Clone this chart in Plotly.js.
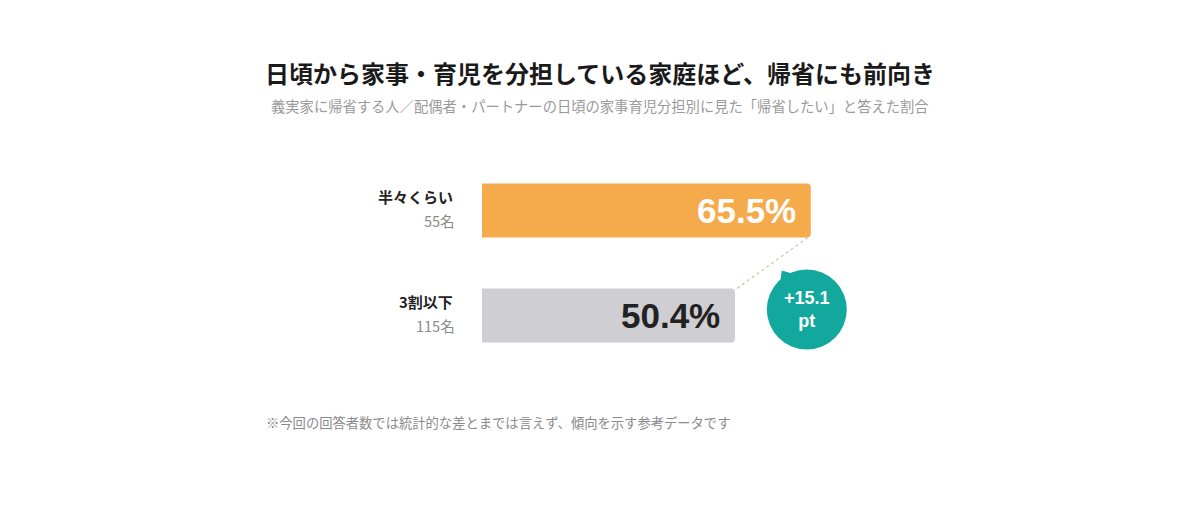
<!DOCTYPE html>
<html>
<head>
<meta charset="utf-8">
<script src="https://cdn.plot.ly/plotly-3.0.1.min.js"></script>
<style>
  html, body { margin: 0; padding: 0; background: #fff; }
  #chart { width: 1200px; height: 506px; }
</style>
</head>
<body>
<div id="chart"></div>
<script>
// data
const groups = ["3割以下", "半々くらい"];
const counts = ["115名", "55名"];
const rates = [50.4, 65.5];
const barColors = ["#cfced3", "#f5aa4c"];
const valueColors = ["#222222", "#ffffff"];

const titleText = "日頃から家事・育児を分担している家庭ほど、帰省にも前向き";
const subText = "義実家に帰省する人／配偶者・パートナーの日頃の家事育児分担別に見た「帰省したい」と答えた割合";
const noteText = "※今回の回答者数では統計的な差とまでは言えず、傾向を示す参考データです";

const jp = "Noto Sans CJK JP, sans-serif";
const barWidth = 0.514;

const diff = (rates[1] - rates[0]).toFixed(1);

const trace = {
    type: "bar",
    orientation: "h",
    x: rates,
    y: groups,
    width: barWidth,
    marker: { color: barColors },
    hoverinfo: "skip"
};

let annotations = [];

// labels on the left of each bar
groups.forEach((g, i) => {
    annotations.push({
        x: 0, y: g, xref: "x", yref: "y",
        text: "<b>" + g + "</b>",
        showarrow: false, xanchor: "right", yanchor: "middle",
        xshift: -27, yshift: 14,
        font: { family: jp, size: 15, color: "#222" }
    });
    annotations.push({
        x: 0, y: g, xref: "x", yref: "y",
        text: counts[i],
        showarrow: false, xanchor: "right", yanchor: "middle",
        xshift: -25, yshift: -10,
        font: { family: jp, size: 14.5, color: "#8a8a8a" }
    });
    // value inside the bar
    annotations.push({
        x: rates[i], y: g, xref: "x", yref: "y",
        text: "<b>" + rates[i].toFixed(1) + "%</b>",
        showarrow: false, xanchor: "right", yanchor: "middle",
        xshift: -13, yshift: 0,
        font: { family: "Liberation Sans, Arial, sans-serif", size: 35, color: valueColors[i] }
    });
});

// difference bubble text
annotations.push({
    x: rates[1], y: 0, xref: "x", yref: "y",
    text: "<b>+" + diff + "<br>pt</b>",
    showarrow: false, xanchor: "center", yanchor: "middle",
    xshift: -4, yshift: 6,
    font: { family: "Liberation Sans, Arial, sans-serif", size: 18, color: "#fff" }
});

annotations.push({
    x: 0.5, y: 1, xref: "paper", yref: "paper",
    text: subText, showarrow: false, xanchor: "center", yanchor: "middle",
    font: { family: jp, size: 14.3, color: "#9a9a9a" }
});
annotations.push({
    x: 0, y: 0, xref: "paper", yref: "paper",
    text: noteText, showarrow: false, xanchor: "left", yanchor: "middle",
    font: { family: jp, size: 13.3, color: "#8a8a8a" }
});

const layout = {
    width: 1200,
    height: 506,
    margin: { l: 482, r: 216, t: 158, b: 138 },
    paper_bgcolor: "#ffffff",
    plot_bgcolor: "#ffffff",
    showlegend: false,
    barcornerradius: 4,
    title: {
        text: "<b>" + titleText + "</b>",
        x: 0.5, xref: "container", xanchor: "center",
        y: 1 - 75 / 506, yref: "container", yanchor: "middle",
        font: { family: jp, size: 24, color: "#1a1a1a" }
    },
    xaxis: { range: [0, 100], visible: false, fixedrange: true },
    yaxis: {
        type: "category",
        categoryarray: groups,
        range: [-0.5, 1.5],
        showticklabels: false, showgrid: false, zeroline: false, showline: false,
        fixedrange: true
    },
    annotations: annotations,
    shapes: [
        // dotted connector from the top bar to the bottom bar
        {
            type: "line", xref: "x", yref: "y",
            x0: rates[1] - 0.6, y0: 1 - barWidth / 2,
            x1: rates[0] + 0.4, y1: barWidth / 2,
            line: { color: "#cfc6a8", width: 1.3, dash: "dot" }
        },
        // bubble
        {
            type: "circle", xref: "x", yref: "y",
            xsizemode: "pixel", ysizemode: "pixel",
            xanchor: rates[1], yanchor: 0,
            x0: -44, x1: 36, y0: -34, y1: 46,
            fillcolor: "#12a89d", line: { width: 0 }
        },
        // bubble tail
        {
            type: "path", xref: "x", yref: "y",
            xsizemode: "pixel", ysizemode: "pixel",
            xanchor: rates[1], yanchor: 0,
            path: "M-29,45 L-32,24 L-12,40 Z",
            fillcolor: "#12a89d", line: { width: 0 }
        }
    ]
};

// subtitle and footnote were placed in pixels, turn them into paper units
const plotW = 1200 - 482 - 216;
const plotH = 506 - 158 - 138;
const note = annotations[annotations.length - 1];
note.x = (264 - 482) / plotW;
note.y = (506 - 138 - 422) / plotH;
const sub = annotations[annotations.length - 2];
sub.x = (600 - 482) / plotW;
sub.y = (506 - 138 - 105) / plotH;

Plotly.newPlot("chart", [trace], layout, { staticPlot: true, responsive: false });
</script>
</body>
</html>
